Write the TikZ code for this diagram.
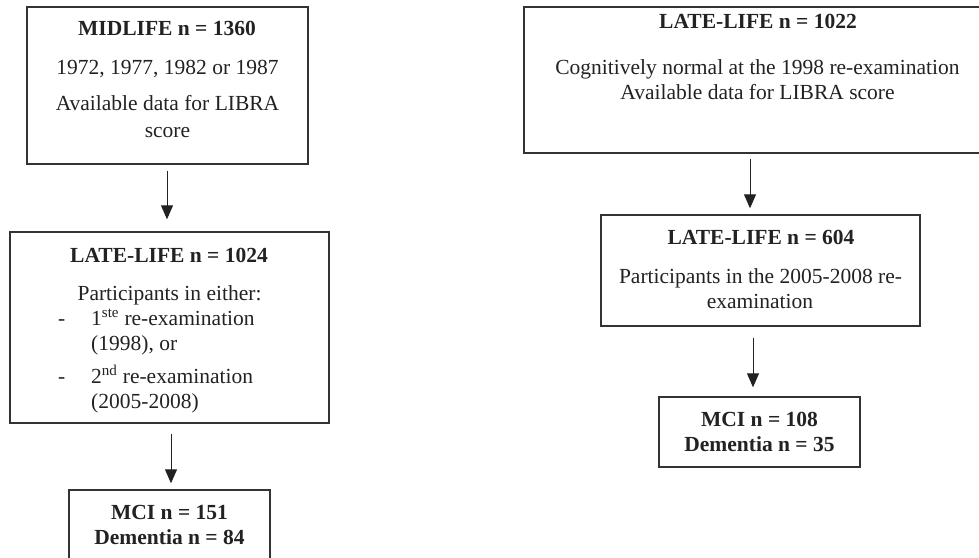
\documentclass[tikz,border=0pt]{standalone}
\usepackage{fontspec}
\setmainfont{Liberation Serif}
\usetikzlibrary{arrows.meta,calc}
\definecolor{ink}{HTML}{222222}
\definecolor{edge}{HTML}{333333}
\begin{document}
\begin{tikzpicture}[x=1pt,y=-1pt,
  box/.style={draw=edge,line width=1.4pt,rectangle,inner sep=0pt},
  txt/.style={anchor=base,inner sep=0pt,text=ink,font=\fontsize{21.5}{25}\selectfont},
  ttl/.style={txt,font=\fontsize{21.5}{25}\selectfont\bfseries},
  lft/.style={txt,anchor=base west},
  arr/.style={draw=ink,line width=1pt,-{Triangle[length=14pt,width=12pt]}}]
\useasboundingbox (0,0) rectangle (979,557);
\clip (0,0) rectangle (979,557);
\fill[white] (0,0) rectangle (979,557);

% boxes
\node[box,minimum width=281pt,minimum height=157pt] (b1) at (167.5,85.5) {};
\node[box,minimum width=319pt,minimum height=191pt] (b2) at (169.5,327.5) {};
\node[box,minimum width=201pt,minimum height=70pt] (b3) at (169.5,525) {};
\node[box,minimum width=468pt,minimum height=146pt] (b4) at (758,80) {};
\node[box,minimum width=319pt,minimum height=111pt] (b5) at (760.5,270.5) {};
\node[box,minimum width=201pt,minimum height=70pt] (b6) at (759.5,432) {};

% texts box 1
\node[ttl] (t1a) at (167,35) {MIDLIFE n = 1360};
\node[txt] (t1b) at (167.5,74) {1972, 1977, 1982 or 1987};
\node[txt] (t1c) at (167.5,110) {Available data for LIBRA};
\node[txt] (t1d) at (167.5,137) {score};

% texts box 2
\node[ttl] (t2a) at (169,262) {LATE-LIFE n = 1024};
\node[txt] (t2b) at (169.5,300) {Participants in either:};
\node[lft] (t2c) at (58,325) {-};
\node[lft] (t2d) at (91,325) {1\textsuperscript{ste} re-examination};
\node[lft] (t2e) at (91,350) {(1998), or};
\node[lft] (t2f) at (58,383) {-};
\node[lft] (t2g) at (91,383) {2\textsuperscript{nd} re-examination};
\node[lft] (t2h) at (91,408) {(2005-2008)};

% texts box 3
\node[ttl] (t3a) at (169.5,519) {MCI n = 151};
\node[ttl] (t3b) at (169.5,544) {Dementia n = 84};

% texts box 4
\node[ttl] (t4a) at (758,28) {LATE-LIFE n = 1022};
\node[txt] (t4b) at (757.5,74) {Cognitively normal at the 1998 re-examination};
\node[txt] (t4c) at (757.5,99) {Available data for LIBRA score};

% texts box 5
\node[ttl] (t5a) at (761,244) {LATE-LIFE n = 604};
\node[txt] (t5b) at (760.5,283) {Participants in the 2005-2008 re-};
\node[txt] (t5c) at (760,308) {examination};

% texts box 6
\node[ttl] (t6a) at (759.5,426) {MCI n = 108};
\node[ttl] (t6b) at (759.5,451) {Dementia n = 35};

% arrow columns
\coordinate (c1) at (167,0);
\coordinate (c2) at (171,0);
\coordinate (c3) at (750,0);
\coordinate (c4) at (753,0);

\draw[arr] ($(b1.south -| c1)+(0,6)$) -- ($(b2.north -| c1)+(0,-12)$);
\draw[arr] ($(b2.south -| c2)+(0,10)$) -- ($(b3.north -| c2)+(0,-6)$);
\draw[arr] ($(b4.south -| c3)+(0,5)$) -- ($(b5.north -| c3)+(0,-6)$);
\draw[arr] ($(b5.south -| c4)+(0,11)$) -- ($(b6.north -| c4)+(0,-9)$);
\end{tikzpicture}
\end{document}
